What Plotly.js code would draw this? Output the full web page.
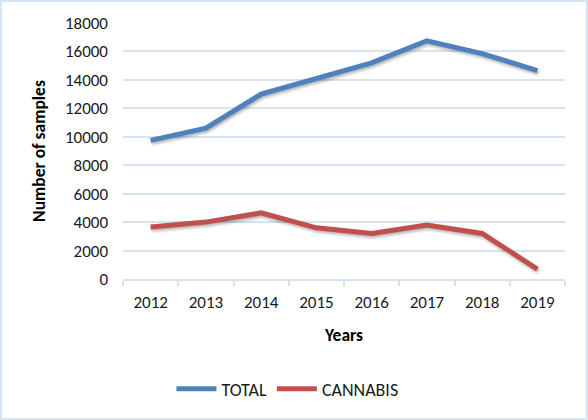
<!DOCTYPE html>
<html>
<head>
<meta charset="utf-8">
<script src="https://cdn.plot.ly/plotly-3.0.1.min.js"></script>
<style>
html,body{margin:0;padding:0;background:#fff;}
#wrap{position:relative;width:588px;height:420px;}
#chart{width:588px;height:420px;}
#frame{position:absolute;left:0;top:0;width:588px;height:420px;box-sizing:border-box;border:2px solid #d5e3f3;pointer-events:none;}
#chart .scatterlayer path.js-line{filter:drop-shadow(1px 2px 1.5px rgba(0,0,0,0.3));}
</style>
</head>
<body>
<div id="wrap"><div id="chart"></div><div id="frame"></div></div>
<script>
var years = ['2012','2013','2014','2015','2016','2017','2018','2019'];
var totalValues = [9750, 10600, 13000, 14100, 15200, 16750, 15850, 14650];
var cannabisValues = [3650, 4000, 4650, 3600, 3200, 3800, 3200, 700];
var yTicks = [0,2000,4000,6000,8000,10000,12000,14000,16000,18000];

var font = 'Carlito, "Open Sans", "Liberation Sans", sans-serif';
var traces = [
  {x: years, y: totalValues, name: 'TOTAL', type: 'scatter', mode: 'lines',
   line: {color: '#4f81bd', width: 5}},
  {x: years, y: cannabisValues, name: 'CANNABIS', type: 'scatter', mode: 'lines',
   line: {color: '#c0504d', width: 5}}
];
var layout = {
  width: 588, height: 420,
  margin: {l: 123, r: 23, t: 23, b: 141},
  paper_bgcolor: '#ffffff', plot_bgcolor: '#ffffff',
  font: {family: font, size: 17, color: '#1a1a1a'},
  showlegend: true,
  legend: {orientation: 'h', x: 0.372, xanchor: 'center', y: -0.43, yanchor: 'middle',
           font: {size: 18, color: '#1a1a1a'}, itemwidth: 40, tracegroupgap: 0},
  xaxis: {
    type: 'category', range: [-0.5, 7.5], tickson: 'boundaries', ticks: 'outside', ticklen: 5,
    tickcolor: '#d5e3f3', tickwidth: 2, showline: true, linecolor: '#d5e3f3', linewidth: 2,
    showgrid: false, zeroline: false, ticklabelstandoff: 7,
    title: {text: '<b>Years</b>', font: {size: 17.5, color: '#000'}, standoff: 16},
    tickfont: {size: 17, color: '#1a1a1a'}
  },
  yaxis: {
    range: [0, 18000], tickvals: yTicks, ticktext: yTicks.map(String),
    showgrid: true, gridcolor: '#d5e3f3', gridwidth: 2, zeroline: false,
    showline: false, ticks: '', ticklabelstandoff: 14,
    title: {text: '<b>Number of samples</b>', font: {size: 17.5, color: '#000'}, standoff: 14},
    tickfont: {size: 17, color: '#1a1a1a'}
  }
};
Plotly.newPlot('chart', traces, layout, {displayModeBar: false, staticPlot: true});
</script>
</body>
</html>
